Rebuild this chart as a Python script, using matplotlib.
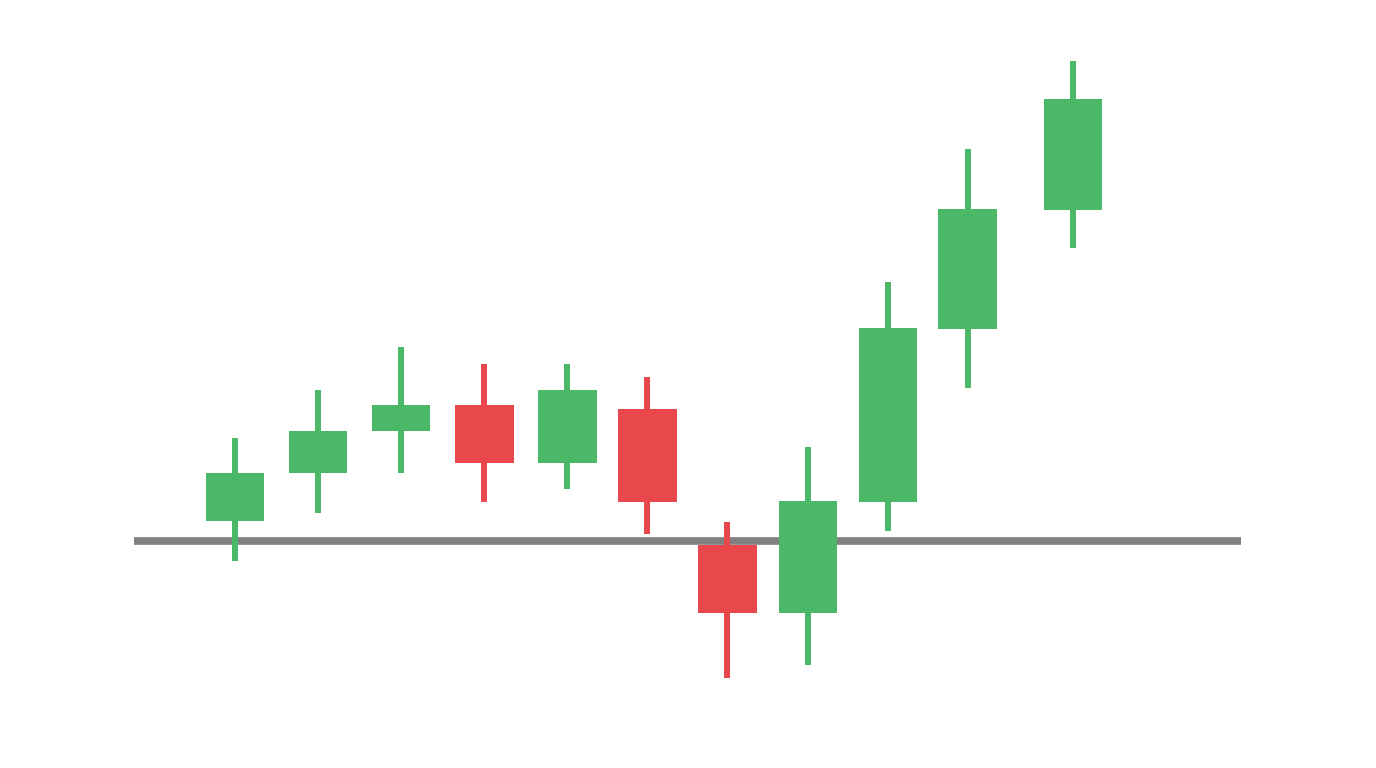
import numpy as np
import matplotlib
matplotlib.use("Agg")
import matplotlib.pyplot as plt

# candle positions (trading days, last one a bit further out)
days = [1, 2.02, 3.04, 4.06, 5.08, 6.06, 7.04, 8.03, 9.01, 9.99, 11.28]
opens = [102.0, 106.8, 111.0, 113.6, 107.8, 113.2, 99.6, 92.8, 103.9, 121.2, 133.1]
closes = [106.8, 111.0, 113.6, 107.8, 115.1, 103.9, 92.8, 104.0, 121.3, 133.2, 144.2]
highs = [110.3, 115.1, 119.4, 117.7, 117.7, 116.4, 101.9, 109.4, 125.9, 139.2, 148.0]
lows = [98.0, 102.8, 106.8, 103.9, 105.2, 100.7, 86.3, 87.6, 101.0, 115.3, 129.3]
support = 100.0

green = "#4ab866"
red = "#e8474c"

days = np.array(days)
opens = np.array(opens)
closes = np.array(closes)
colors = [green if c >= o else red for o, c in zip(opens, closes)]

fig = plt.figure(figsize=(13.76, 7.68), dpi=100)
ax = fig.add_axes([0, 0, 1, 1])

# support line
ax.hlines(support, -0.24, 13.34, color="#808080", linewidth=5.5, zorder=1,
          capstyle="butt")

# wicks
ax.vlines(days, lows, highs, colors=colors, linewidth=4.3, zorder=2)
# bodies
ax.bar(days, closes - opens, bottom=opens, width=0.718, color=colors,
       zorder=3, linewidth=0)

ax.set_xlim(-1.883, 15.0)
ax.set_ylim(77.3, 154.1)
ax.axis("off")

plt.savefig("out.png", dpi=100, facecolor="white")
